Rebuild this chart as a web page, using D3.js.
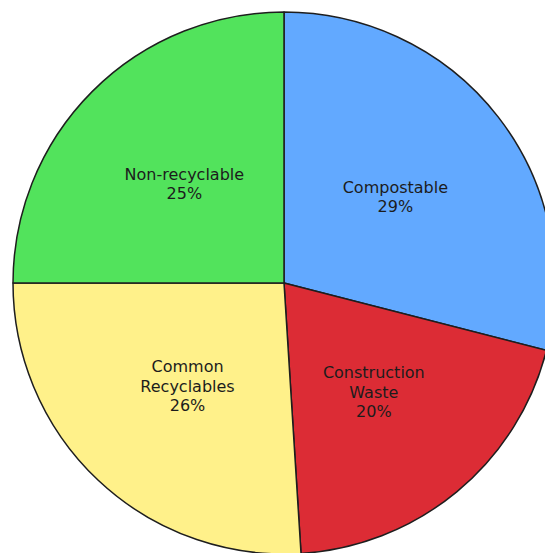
<!DOCTYPE html>
<html>
<head>
<meta charset="utf-8">
<script src="https://cdn.jsdelivr.net/npm/d3@7"></script>
<style>
  html, body { margin: 0; padding: 0; background: #fff; }
  svg { display: block; }
</style>
</head>
<body>
<svg id="chart" width="545" height="553"></svg>
<script>
// Waste stream shares (percent)
const categories = ["Compostable", "Construction Waste", "Common Recyclables", "Non-recyclable"];
const shares = [29, 20, 26, 25];
const colors = ["#62a9ff", "#dc2c35", "#fff18a", "#52e35c"];
// Wrapped label lines per category
const labelLines = [["Compostable"], ["Construction", "Waste"], ["Common", "Recyclables"], ["Non-recyclable"]];

const data = categories.map((c, i) => ({ name: c, value: shares[i], color: colors[i], lines: labelLines[i] }));

const svg = d3.select("#chart");
const cx = 284, cy = 283, r = 271;
const g = svg.append("g").attr("transform", `translate(${cx},${cy})`);

const pie = d3.pie().value(d => d.value).sort(null);
const arc = d3.arc().innerRadius(0).outerRadius(r);
const labelArc = d3.arc().innerRadius(r * 0.52).outerRadius(r * 0.52);

const arcs = pie(data);

g.selectAll("path.slice")
  .data(arcs)
  .join("path")
  .attr("class", "slice")
  .attr("d", arc)
  .attr("fill", d => d.data.color)
  .attr("stroke", "#1e1e1e")
  .attr("stroke-width", 1.5)
  .attr("stroke-linejoin", "round");

const lineH = 19.5;
const labels = g.selectAll("text.label")
  .data(arcs)
  .join("text")
  .attr("class", "label")
  .attr("transform", d => `translate(${labelArc.centroid(d)})`)
  .attr("text-anchor", "middle")
  .attr("font-family", "DejaVu Sans, Verdana, sans-serif")
  .attr("font-size", 16)
  .attr("fill", "#1c1c1c");

labels.each(function(d) {
  const lines = d.data.lines.concat([d3.format(".0f")(d.data.value) + "%"]);
  const top = -((lines.length - 1) * lineH) / 2 + 6;
  d3.select(this).selectAll("tspan")
    .data(lines)
    .join("tspan")
    .attr("x", 0)
    .attr("y", (t, i) => top + i * lineH)
    .text(t => t);
});
</script>
</body>
</html>
